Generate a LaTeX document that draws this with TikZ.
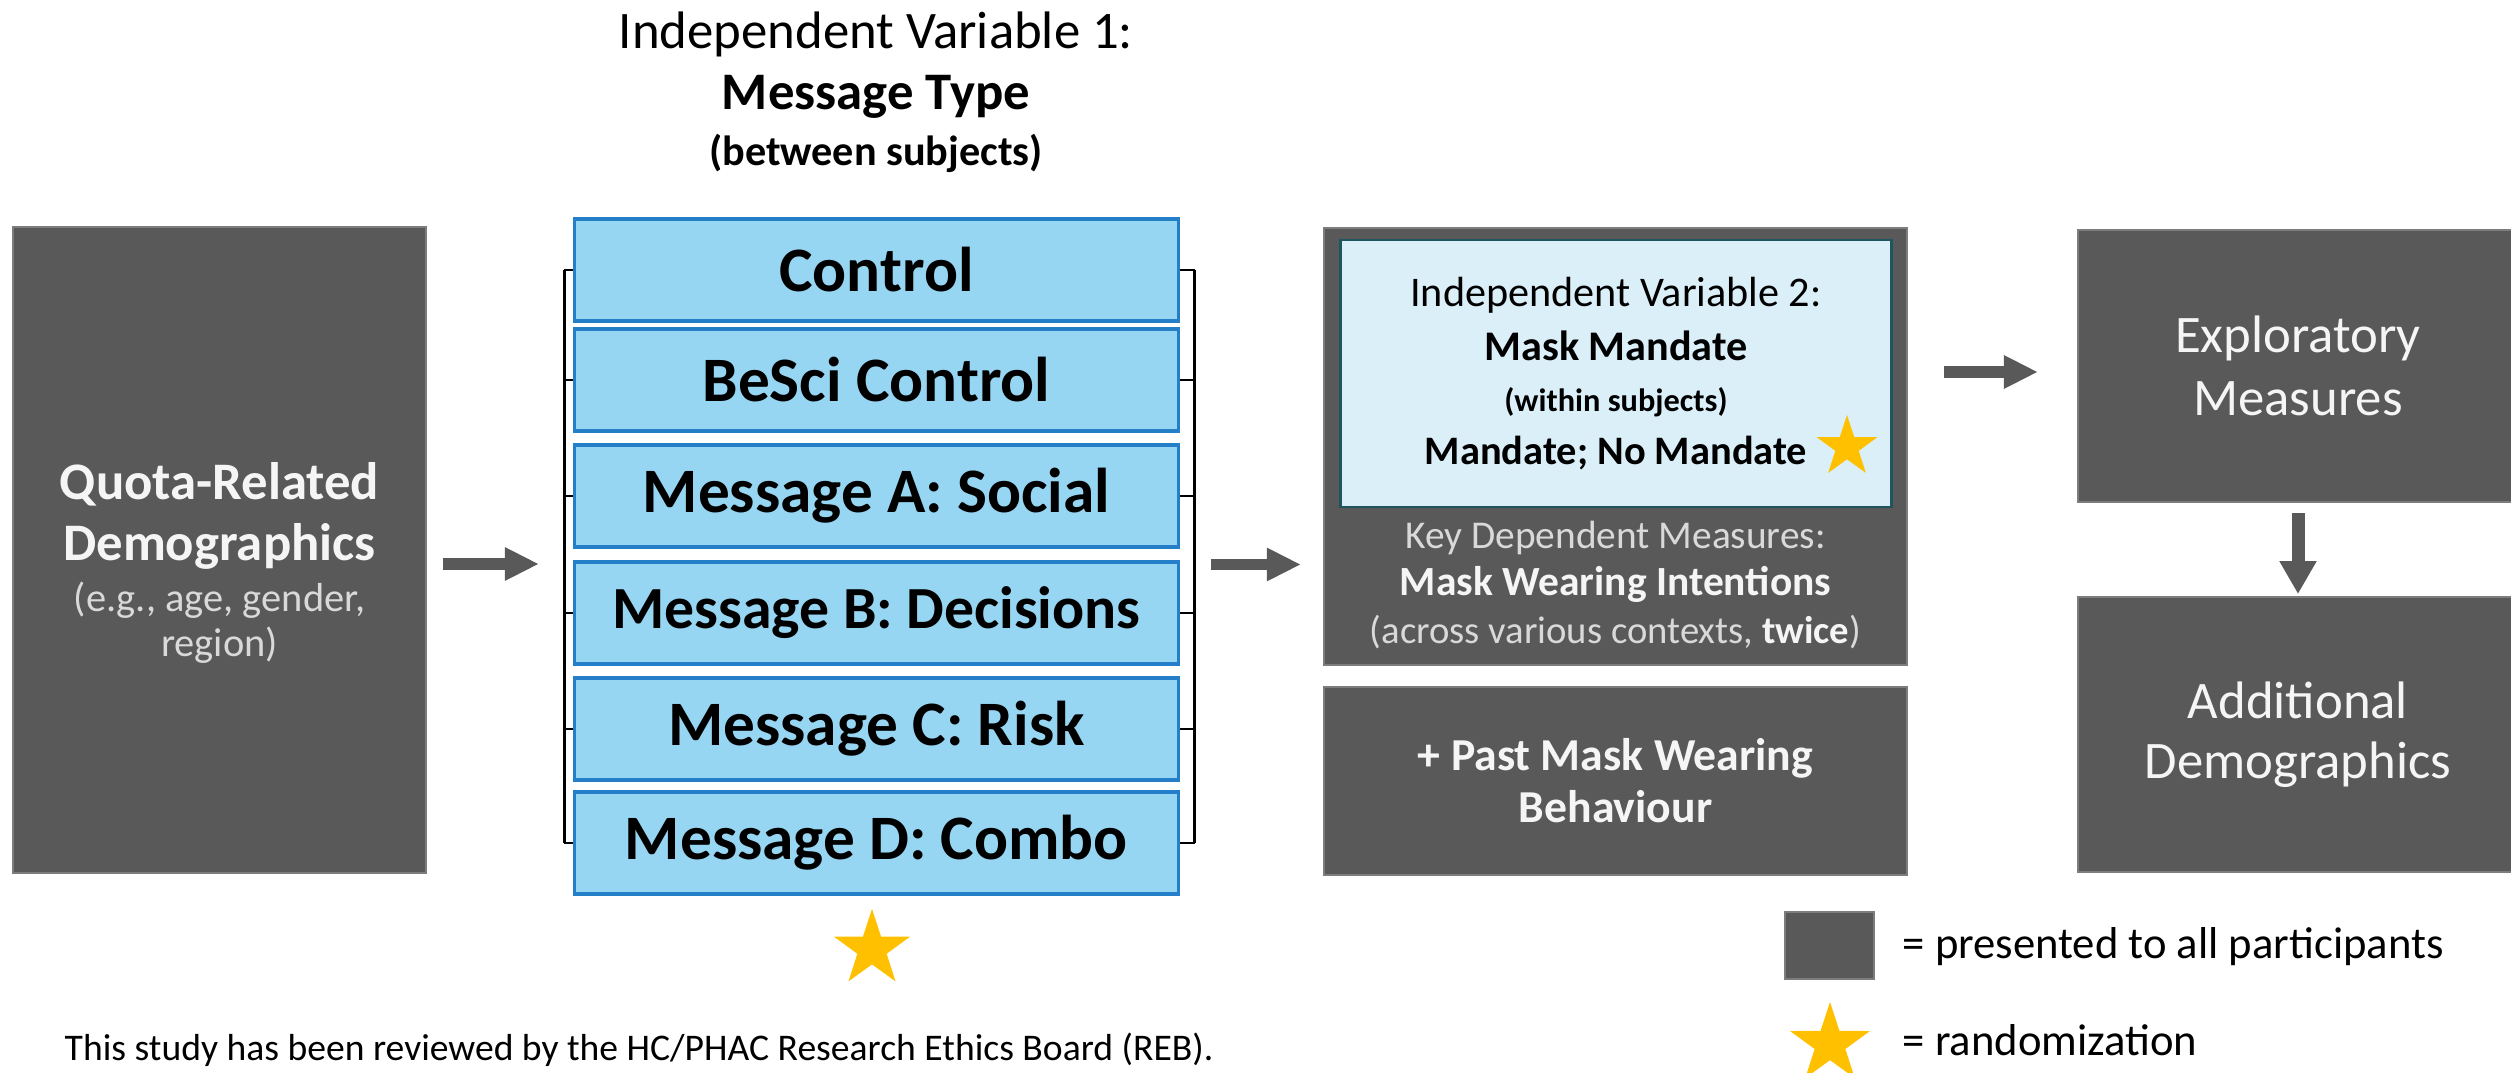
\documentclass[tikz,border=0pt]{standalone}
\usepackage{fontspec}
\setmainfont{Carlito}
\usetikzlibrary{shapes.geometric, arrows.meta, positioning}

\definecolor{boxgray}{RGB}{89,89,89}
\definecolor{boxedge}{RGB}{125,125,125}
\definecolor{msgblue}{RGB}{151,214,242}
\definecolor{msgedge}{RGB}{36,126,200}
\definecolor{ivfill}{RGB}{219,239,249}
\definecolor{ivedge}{RGB}{30,85,95}
\definecolor{stargold}{RGB}{255,192,0}
\definecolor{softwhite}{RGB}{245,245,245}
\definecolor{subgray}{RGB}{217,217,217}

\begin{document}
\begin{tikzpicture}[x=0.01cm, y=-0.01cm, every node/.style={inner sep=0pt, align=center},
    graybox/.style={rectangle, fill=boxgray, draw=boxedge, line width=0.5pt, text=softwhite},
    msgbox/.style={rectangle, fill=msgblue, draw=msgedge, line width=0.9pt, minimum width=6.03cm, minimum height=1.02cm, font=\fontsize{18}{20}\selectfont\bfseries},
    blockarrow/.style={draw=boxgray, line width=0.11cm, -{Triangle[length=0.34cm, width=0.31cm]}},
    randstar/.style={star, star points=5, star point ratio=2.6, fill=stargold, inner sep=0pt}]
    \useasboundingbox (0,0) rectangle (2511,1073);

    % title over the message boxes
    \node (iv1) [font=\fontsize{15}{17.6}\selectfont] at (876,92) {Independent Variable 1:\\\textbf{Message Type}\\[-1.8pt]\fontsize{12}{13.7}\selectfont\bfseries (between subjects)};

    % first block
    \node (demo) [graybox, minimum width=4.13cm, minimum height=6.46cm] at (219.5,550) {};
    \node (demotext) [text=softwhite, font=\fontsize{15}{17.6}\selectfont] at (219.5,563) {\textbf{Quota-Related}\\\textbf{Demographics}\\[-3.1pt]\fontsize{11.5}{14.5}\selectfont\color{subgray}(e.g., age, gender,\\[-4.8pt]\fontsize{11.5}{12.8}\selectfont\color{subgray}region)};

    % message conditions with bracket
    \foreach \name/\y/\txt in {m1/270/Control, m2/380/BeSci Control, m3/496/Message A: Social, m4/613/{\fontsize{17}{20}\selectfont Message B: Decisions}, m5/729/Message C: Risk, m6/843/Message D: Combo} {
        \node (\name) [msgbox] at (876.5,\y) {\txt};
        \draw [line width=0.85pt] (\name.west) -- ++(-9,0);
        \draw [line width=0.85pt] (\name.east) -- ++(15,0);
    }
    \draw [line width=0.85pt] ([shift={(-9,0)}]m1.west) -- ([shift={(-9,0)}]m6.west);
    \draw [line width=0.85pt] ([shift={(15,0)}]m1.east) -- ([shift={(15,0)}]m6.east);
    \node (iv1star) [randstar, minimum size=0.8cm] at (872,949) {};

    % dependent measures
    \node (dv) [graybox, minimum width=5.83cm, minimum height=4.37cm] at (1615.5,446.5) {};
    \node (iv2) [rectangle, fill=ivfill, draw=ivedge, line width=0.8pt, minimum width=5.5cm, minimum height=2.67cm, font=\fontsize{12}{15.4}\selectfont] at (1616,373.5) {Independent Variable 2:\\\textbf{Mask Mandate}\\[-0.9pt]\fontsize{9.2}{14.5}\selectfont\bfseries (within subjects)\\[-0.6pt]\fontsize{11.5}{14.8}\selectfont\bfseries Mandate; No Mandate\hspace{0.7cm}};
    \node (iv2star) [randstar, minimum size=0.64cm] at (1847,447) {};
    \node (dvtext) [text=subgray, font=\fontsize{11.2}{13.4}\selectfont] at (1615.5,585) {Key Dependent Measures:\\\fontsize{11.8}{13.4}\selectfont\bfseries\color{softwhite}Mask Wearing Intentions\\\fontsize{11}{13.4}\selectfont (across various contexts, \textbf{\color{softwhite}twice})};
    \node (past) [graybox, minimum width=5.83cm, minimum height=1.875cm, font=\fontsize{13}{14.8}\selectfont\bfseries] at (1615.5,781) {+ Past Mask Wearing\\Behaviour};

    % last blocks
    \node (explore) [graybox, minimum width=4.4cm, minimum height=2.725cm, font=\fontsize{15}{17.9}\selectfont] at (2298,366) {Exploratory\\Measures};
    \node (extra) [graybox, minimum width=4.4cm, minimum height=2.75cm, font=\fontsize{15}{17}\selectfont] at (2298,734.5) {Additional\\Demographics};

    % Arrows
    \draw [blockarrow] ([shift={(16,14)}]demo.east) -- ++(96,0);
    \draw [blockarrow] ([shift={(-112,118)}]dv.west) -- ++(90,0);
    \draw [blockarrow] ([shift={(-133,6)}]explore.west) -- ++(94,0);
    \draw [blockarrow, line width=0.13cm, -{Triangle[length=0.33cm, width=0.35cm]}] ([shift={(0,10)}]explore.south) -- ([shift={(0,-2)}]extra.north);

    % legend
    \node (allkey) [graybox, minimum width=0.89cm, minimum height=0.67cm] at (1829.5,945.5) {};
    \node (allnote) [anchor=base west, font=\fontsize{12.7}{15}\selectfont] at (1902,958) {= presented to all participants};
    \node (randkey) [randstar, minimum size=0.84cm] at (1830,1044) {};
    \node (randnote) [anchor=base west, font=\fontsize{12.7}{15}\selectfont] at (1902,1055) {= randomization};

    \node (reb) [anchor=base west, font=\fontsize{10.7}{13}\selectfont] at (64,1060) {This study has been reviewed by the HC/PHAC Research Ethics Board (REB).};
\end{tikzpicture}
\end{document}
